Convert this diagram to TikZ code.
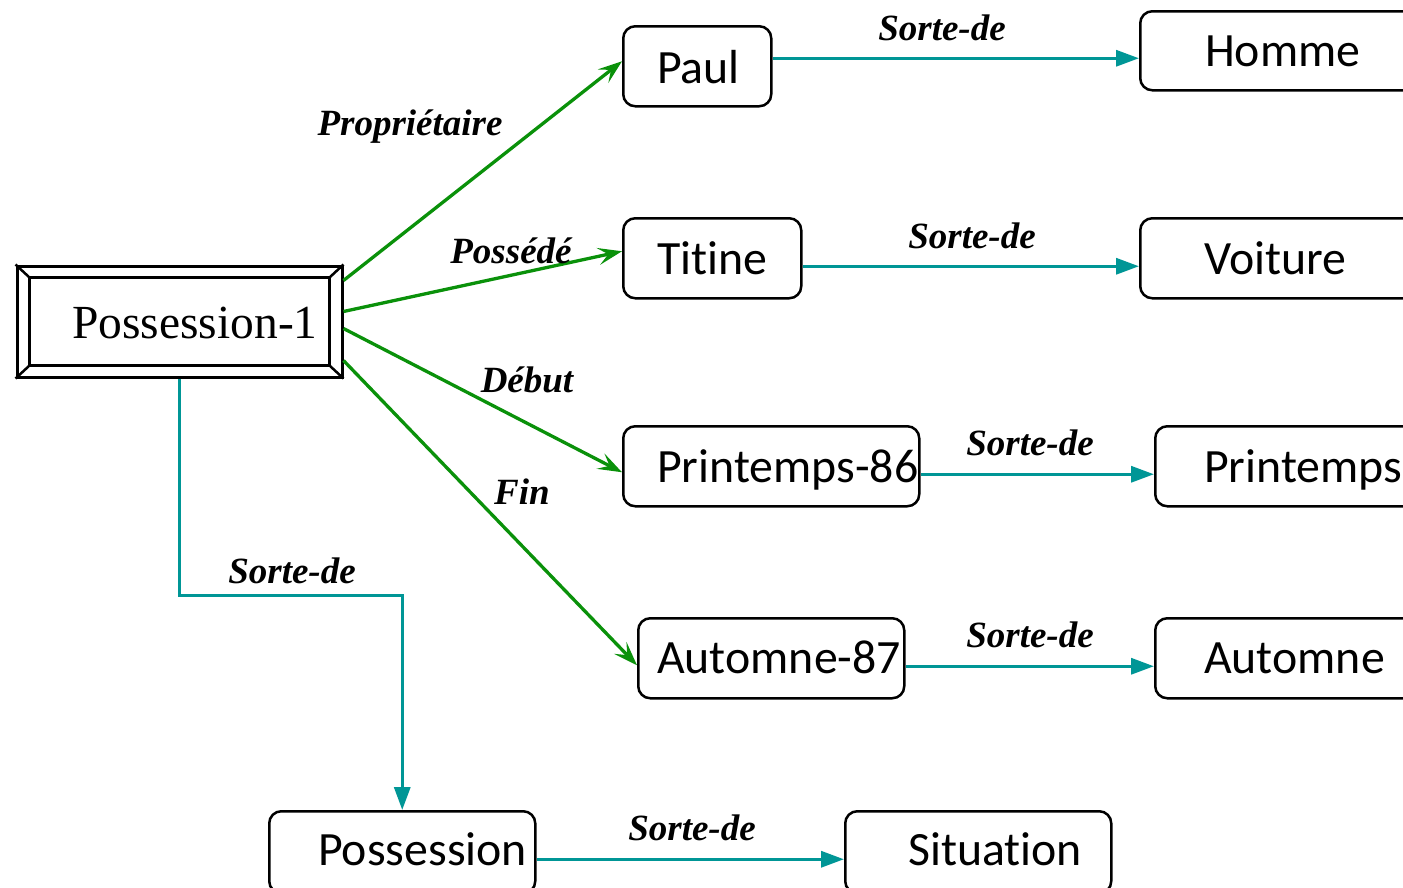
\documentclass[tikz,border=0pt]{standalone}
\usepackage{fontspec}
\setmainfont{Liberation Serif}
\newfontfamily\boxfont[Ligatures=NoCommon]{Carlito}
\usetikzlibrary{arrows.meta,calc}
\definecolor{relgreen}{RGB}{10,145,10}
\definecolor{kindteal}{RGB}{0,150,150}
\tikzset{
  rbox/.style={draw=black, line width=2.5pt, rounded corners=12pt, inner sep=0pt, anchor=north west},
  boxtext/.style={anchor=base west, inner sep=0pt, font=\boxfont\fontsize{47.8}{56}\selectfont},
  rel/.style={draw=relgreen, line width=3.3pt, -{Stealth[length=24pt,width=17pt,inset=10pt]}},
  kind/.style={draw=kindteal, line width=3.3pt, -{Triangle[length=23pt,width=16pt]}},
  lbl/.style={anchor=base, inner sep=0pt, font=\fontsize{37}{44}\selectfont\bfseries\itshape},
}
\begin{document}
\begin{tikzpicture}[x=1pt,y=-1pt]
\useasboundingbox (0,0) rectangle (1403,887);
\clip (0,0) rectangle (1403,887);

% framed central concept
\node (p1) [draw, line width=3pt, minimum width=325pt, minimum height=111pt, inner sep=0pt] at (179.5,321.5) {};
\coordinate (i1) at ($(p1.north west)+(14,13)$);
\coordinate (i2) at ($(p1.north east)+(-14,13)$);
\coordinate (i3) at ($(p1.south east)+(-14,-13)$);
\coordinate (i4) at ($(p1.south west)+(14,-13)$);
\draw[line width=3pt] (i1) -- (i2) -- (i3) -- (i4) -- cycle;
\draw[line width=2.5pt] (p1.north west) -- (i1) (p1.north east) -- (i2)
  (p1.south east) -- (i3) (p1.south west) -- (i4);
\node (p1t) [anchor=base, inner sep=0pt, font=\fontsize{47.5}{56}\selectfont] at (195,338) {Possession-1};

% concept boxes
\node (paul)   [rbox, minimum width=148pt, minimum height=80pt] at (622,25) {};
\node (homme)  [rbox, minimum width=290pt, minimum height=79pt] at (1139,10) {};
\node (titine) [rbox, minimum width=178pt, minimum height=80pt] at (622,217) {};
\node (voit)   [rbox, minimum width=290pt, minimum height=80pt] at (1139,217) {};
\node (pr86)   [rbox, minimum width=296pt, minimum height=80pt] at (622,425) {};
\node (print)  [rbox, minimum width=290pt, minimum height=80pt] at (1154,425) {};
\node (au87)   [rbox, minimum width=266pt, minimum height=80pt] at (637,617) {};
\node (autom)  [rbox, minimum width=290pt, minimum height=80pt] at (1154,617) {};
\node (poss)   [rbox, minimum width=266pt, minimum height=82pt] at (268,810) {};
\node (sit)    [rbox, minimum width=266pt, minimum height=82pt] at (844,810) {};

\node (pault)  [boxtext] at (657,83)  {Paul};
\node (hommet) [boxtext] at (1205,66) {Homme};
\node (titt)   [boxtext] at (657,274) {Titine};
\node (voitt)  [boxtext] at (1204,274) {Voiture};
\node (pr86t)  [boxtext] at (657,482) {Printemps-86};
\node (printt) [boxtext] at (1204,482) {Printemps};
\node (au87t)  [boxtext] at (657,673) {Automne-87};
\node (autt)   [boxtext] at (1204,673) {Automne};
\node (posst)  [boxtext] at (318,865) {Possession};
\node (sitt)   [boxtext] at (908,865) {Situation};

% role relations
\draw[rel] ($(p1.north east)+(0,16)$) -- ($(paul.west)+(0,-5)$);
\draw[rel] ($(p1.north east)+(0,47)$) -- ($(titine.west)+(0,-7)$);
\draw[rel] ($(p1.north east)+(0,64)$) -- ($(pr86.west)+(0,6)$);
\draw[rel] ($(p1.north east)+(0,96)$) -- ($(au87.west)+(0,7)$);

% kind-of relations
\coordinate (k1) at ($(paul.east)+(0,-8)$);
\coordinate (k2) at ($(titine.east)+(0,8)$);
\coordinate (k3) at ($(pr86.east)+(0,8)$);
\coordinate (k4) at ($(au87.east)+(0,8)$);
\coordinate (k5) at ($(poss.east)+(0,7)$);
\draw[kind] (k1) -- (k1 -| homme.west);
\draw[kind] (k2) -- (k2 -| voit.west);
\draw[kind] (k3) -- (k3 -| print.west);
\draw[kind] (k4) -- (k4 -| autom.west);
\draw[kind] (k5) -- (k5 -| sit.west);
\draw[kind] (p1.south) -- ++(0,217) -| (poss.north);

% relation labels
\node (l1)  [lbl] at (410,135) {Propriétaire};
\node (l2)  [lbl] at (511,263) {Possédé};
\node (l3)  [lbl] at (527,392) {Début};
\node (l4)  [lbl] at (522,504) {Fin};
\node (s1)  [lbl] at (942,40)  {Sorte-de};
\node (s2)  [lbl] at (972,248) {Sorte-de};
\node (s3)  [lbl] at (1030,455) {Sorte-de};
\node (s4)  [lbl] at (1030,647) {Sorte-de};
\node (s5)  [lbl] at (292,583) {Sorte-de};
\node (s6)  [lbl] at (692,840) {Sorte-de};
\end{tikzpicture}
\end{document}
